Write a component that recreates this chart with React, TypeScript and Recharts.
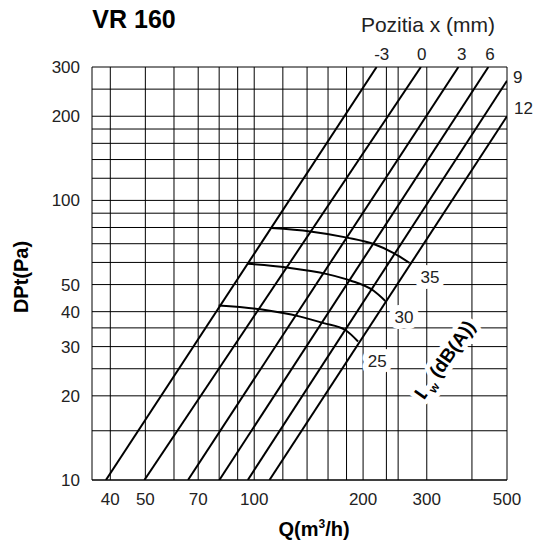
import React from 'react';
import { ComposedChart, Line, XAxis, YAxis, CartesianGrid, Customized } from 'recharts';

// Axis ticks and grid values
const qTicks = [40, 50, 70, 100, 200, 300, 500];
const dpTicks = [10, 20, 30, 40, 50, 100, 200, 300];
const qGrid = [40, 50, 60, 70, 80, 90, 100, 120, 140, 160, 180, 200, 232, 250, 300, 400, 500];
const dpGrid = [10, 15, 20, 25, 30, 35, 40, 50, 60, 70, 80, 90, 100, 120, 140, 160, 180, 200, 250, 300];

// Damper position lines (x in mm): start at 10 Pa, end point at top/right border
const positionLabels = ['-3', '0', '3', '6', '9', '12'];
const lineStartQ = [38.9, 49.7, 65.6, 80.1, 96.0, 110.2];
const lineStartDp = [10, 10, 10, 10, 10, 10];
const lineEndQ = [218, 289, 367, 444, 500, 500];
const lineEndDp = [300, 300, 300, 300, 268, 200];

// Sound power curves Lw (dB(A))
const lw35Q = [111.5, 142.9, 180.6, 213.9, 243, 269];
const lw35Dp = [79.6, 77.4, 73.6, 69.8, 64.8, 59.7];
const lw30Q = [96.1, 123.3, 159, 184.4, 213.9, 230.4];
const lw30Dp = [59.3, 57.5, 54.5, 51.7, 47.5, 43.7];
const lw25Q = [79.7, 104, 134.1, 155.6, 178.6, 193.7];
const lw25Dp = [42.1, 40.8, 38.4, 36.4, 34.4, 31.3];

const FONT = '"Liberation Sans", Arial, Helvetica, sans-serif';
const TXT = '#222';

const positionSeries = positionLabels.map((name, i) => ({
  name,
  data: [
    { q: lineStartQ[i], dp: lineStartDp[i] },
    { q: lineEndQ[i], dp: lineEndDp[i] },
  ],
}));

const lwSeries = [
  { name: 'Lw35', q: lw35Q, dp: lw35Dp },
  { name: 'Lw30', q: lw30Q, dp: lw30Dp },
  { name: 'Lw25', q: lw25Q, dp: lw25Dp },
].map((s) => ({ name: s.name, data: s.q.map((q, i) => ({ q, dp: s.dp[i] })) }));

const halo = {
  stroke: '#fff',
  strokeWidth: 12,
  strokeLinejoin: 'round' as const,
  paintOrder: 'stroke' as const,
};

function Annotations() {
  const topX = [381.7, 421.7, 461.7, 490];
  return (
    <g fontFamily={FONT}>
      <text x={134} y={28} textAnchor="middle" fontSize={25} fontWeight="bold" fill="#000">VR 160</text>
      <text x={428} y={32} textAnchor="middle" fontSize={21} fill={TXT}>Pozitia x (mm)</text>
      {positionLabels.slice(0, 4).map((p, i) => (
        <text key={p} x={topX[i]} y={60} textAnchor="middle" fontSize={17} fill={TXT}>{p}</text>
      ))}
      <text x={513} y={82.7} textAnchor="start" fontSize={17} fill={TXT}>{positionLabels[4]}</text>
      <text x={514} y={114} textAnchor="start" fontSize={17} fill={TXT}>{positionLabels[5]}</text>
      <text x={314} y={536} textAnchor="middle" fontSize={20} fontWeight="bold" fill="#000">
        Q(m<tspan fontSize={12} dy={-8}>3</tspan><tspan dy={8}>/h)</tspan>
      </text>
      <text x={28} y={277} transform="rotate(-90 28 277)" textAnchor="middle" fontSize={20} fontWeight="bold" fill="#000">DPt(Pa)</text>
      <text x={430} y={282.7} textAnchor="middle" fontSize={17} fill={TXT} {...halo}>35</text>
      <text x={404} y={322.7} textAnchor="middle" fontSize={17} fill={TXT} {...halo}>30</text>
      <text x={377.3} y={367} textAnchor="middle" fontSize={17} fill={TXT} {...halo}>25</text>
      <text x={445} y={366} transform="rotate(-55 445 360)" textAnchor="middle" fontSize={19} fontWeight="bold" fill="#000" {...halo} strokeWidth={10}>
        L<tspan fontSize={12} dy={5}>w</tspan><tspan dy={-5}> (dB(A))</tspan>
      </text>
    </g>
  );
}

export default function App() {
  return (
    <div style={{ position: 'absolute', left: 0, top: 0, width: 533, height: 542, overflow: 'hidden', background: '#fff' }}>
      <ComposedChart width={533} height={542} margin={{ top: 67, right: 26, bottom: 32, left: 0 }}>
        <CartesianGrid horizontalValues={dpGrid} verticalValues={qGrid} stroke="#000" strokeWidth={1} />
        <XAxis
          dataKey="q"
          type="number"
          scale="log"
          domain={[35.6, 500]}
          allowDataOverflow
          ticks={qTicks}
          interval={0}
          tickLine={false}
          axisLine={{ stroke: '#000' }}
          tickSize={6}
          tickMargin={7}
          height={30}
          tick={{ fontSize: 17, fill: TXT, fontFamily: FONT }}
        />
        <YAxis
          dataKey="dp"
          type="number"
          scale="log"
          domain={[10, 300]}
          allowDataOverflow
          ticks={dpTicks}
          interval={0}
          tickLine={false}
          axisLine={{ stroke: '#000' }}
          tickSize={6}
          tickMargin={6}
          width={92}
          tick={{ fontSize: 17, fill: TXT, fontFamily: FONT }}
        />
        {positionSeries.map((s) => (
          <Line
            key={s.name}
            name={s.name}
            data={s.data}
            dataKey="dp"
            type="linear"
            stroke="#000"
            strokeWidth={2}
            dot={false}
            activeDot={false}
            isAnimationActive={false}
          />
        ))}
        {lwSeries.map((s) => (
          <Line
            key={s.name}
            name={s.name}
            data={s.data}
            dataKey="dp"
            type="monotone"
            stroke="#000"
            strokeWidth={2}
            dot={false}
            activeDot={false}
            isAnimationActive={false}
          />
        ))}
        <Customized component={Annotations} />
      </ComposedChart>
    </div>
  );
}
